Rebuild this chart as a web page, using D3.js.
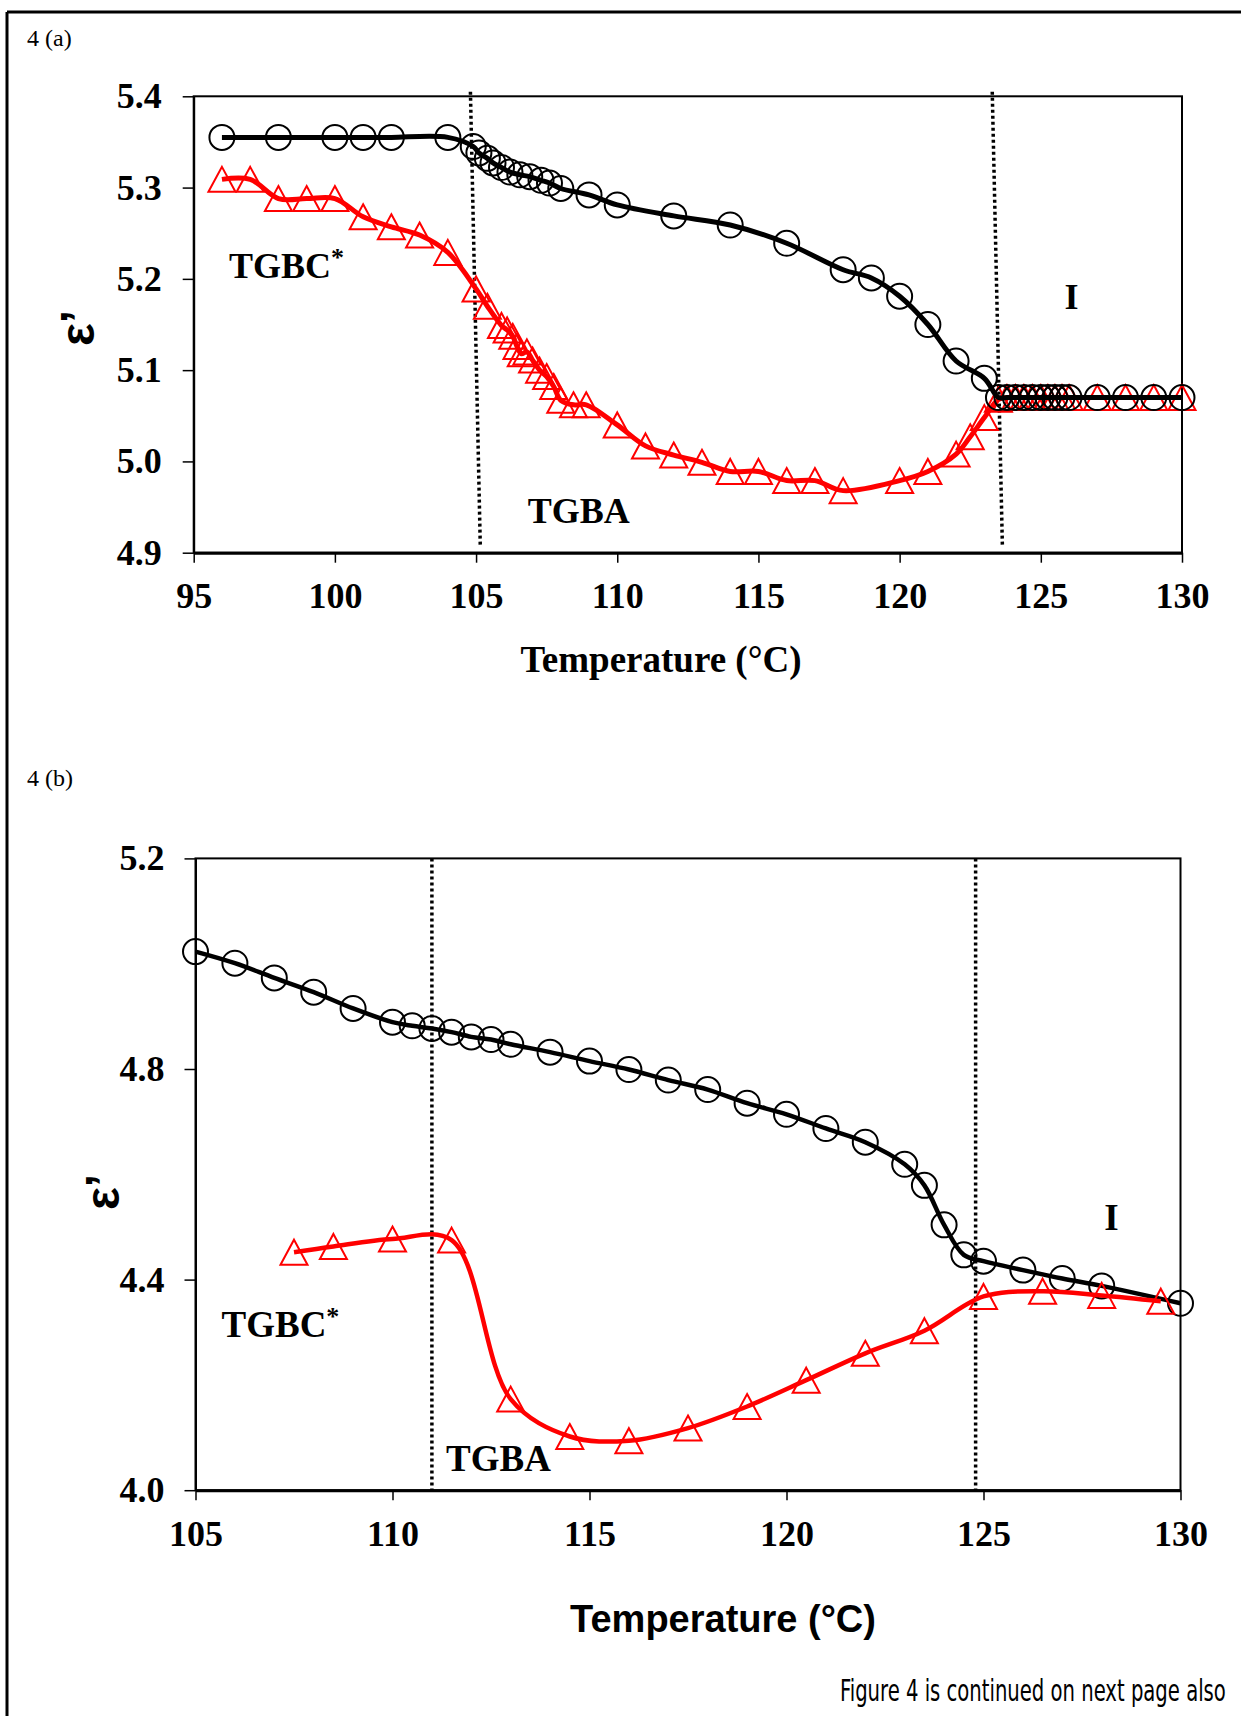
<!DOCTYPE html>
<html>
<head>
<meta charset="utf-8">
<script src="https://cdn.jsdelivr.net/npm/d3@7"></script>
<style>
  body { margin: 0; background: #fff; }
  svg { display: block; }
</style>
</head>
<body>
<script>
// ---- data, figure 4(a) ----
var aTempCirc = [96, 98, 100, 101, 102, 104, 104.9, 105.1, 105.4, 105.6, 105.9, 106.2, 106.55, 106.9, 107.3, 107.6, 108,
  109, 110, 112, 114, 116, 118, 119, 120, 121, 122, 123, 123.5, 123.8, 124.1, 124.4, 124.7, 125, 125.25, 125.5, 125.75,
  126, 127, 128, 129, 130];
var aEpsCirc = [5.355, 5.355, 5.355, 5.355, 5.355, 5.355, 5.345, 5.338, 5.332, 5.327, 5.322, 5.317, 5.314, 5.312, 5.308, 5.305, 5.299,
  5.292, 5.281, 5.269, 5.259, 5.239, 5.210, 5.201, 5.181, 5.150, 5.110, 5.091, 5.070, 5.070, 5.070, 5.070, 5.070, 5.070, 5.070, 5.070, 5.070,
  5.070, 5.070, 5.070, 5.070, 5.070];
var aTempTri = [96, 97, 98, 99, 100, 101, 102, 103, 104, 105, 105.4, 105.9, 106.1, 106.3, 106.45, 106.6, 106.8, 107, 107.25, 107.5,
  107.75, 108, 108.45, 108.9, 110, 111, 112, 113, 114, 115, 116, 117, 118, 120, 121, 122, 122.5, 123, 123.5, 123.8, 124.1,
  124.4, 124.7, 125, 125.25, 125.5, 125.75, 126, 127, 128, 129, 130];
var aEpsTri = [5.309, 5.309, 5.288, 5.288, 5.288, 5.268, 5.257, 5.248, 5.229, 5.189, 5.170, 5.149, 5.144, 5.137, 5.126, 5.118, 5.120, 5.111, 5.100, 5.093,
  5.082, 5.067, 5.062, 5.062, 5.040, 5.017, 5.007, 4.999, 4.989, 4.989, 4.979, 4.979, 4.968, 4.979, 4.989, 5.008, 5.027, 5.048, 5.068, 5.070, 5.070,
  5.070, 5.070, 5.070, 5.070, 5.070, 5.070, 5.070, 5.070, 5.070, 5.070, 5.070];
var aXTicks = [95, 100, 105, 110, 115, 120, 125, 130];
var aYTicks = [4.9, 5.0, 5.1, 5.2, 5.3, 5.4];
var aTransTop = [104.8, 123.28];     // dotted phase lines, temperature at top
var aTransBottom = [105.15, 123.64]; // and at bottom
var aPhases = [
  {name: "TGBC", star: true, t: 96.25, v: 5.201, anchor: "start"},
  {name: "TGBA", star: false, t: 106.83, v: 4.932, anchor: "start"},
  {name: "I", star: false, t: 126.09, v: 5.167, anchor: "middle"}
];

// ---- data, figure 4(b) ----
var bTempCirc = [105, 106, 107, 108, 109, 110, 110.5, 111, 111.5, 112, 112.5, 113, 114, 115, 116, 117, 118, 119, 120, 121,
  122, 123, 123.5, 124, 124.5, 125, 126, 127, 128, 130];
var bEpsCirc = [5.023, 5.001, 4.973, 4.946, 4.915, 4.889, 4.882, 4.877, 4.870, 4.861, 4.856, 4.847, 4.832, 4.815, 4.799, 4.779, 4.761, 4.735, 4.714, 4.687,
  4.661, 4.619, 4.579, 4.504, 4.447, 4.435, 4.418, 4.402, 4.388, 4.355];
var bTempTri = [107.5, 108.5, 110, 111.5, 113, 114.5, 116, 117.5, 119, 120.5, 122, 123.5, 125, 126.5, 128, 129.5];
var bEpsTri = [4.452, 4.463, 4.477, 4.475, 4.173, 4.102, 4.094, 4.118, 4.159, 4.209, 4.260, 4.303, 4.368, 4.378, 4.370, 4.359];
var bXTicks = [105, 110, 115, 120, 125, 130];
var bYTicks = [4.0, 4.4, 4.8, 5.2];
var bTrans = [111, 124.8];
var bPhases = [
  {name: "TGBC", star: true, t: 105.66, v: 4.291, anchor: "start"},
  {name: "TGBA", star: false, t: 111.36, v: 4.036, anchor: "start"},
  {name: "I", star: false, t: 128.25, v: 4.494, anchor: "middle"}
];

var width = 1241, height = 1716;
var serif = "'Liberation Serif', 'Times New Roman', serif";
var sans = "'Liberation Sans', Arial, sans-serif";

var svg = d3.select("body").append("svg")
    .attr("width", width).attr("height", height)
    .style("background", "#fff");

// page frame (only left and top edges show)
svg.append("line").attr("x1", 7).attr("y1", 12).attr("x2", width).attr("y2", 12)
    .attr("stroke", "#000").attr("stroke-width", 3);
svg.append("line").attr("x1", 7).attr("y1", 12).attr("x2", 7).attr("y2", height)
    .attr("stroke", "#000").attr("stroke-width", 3);

function zip(ts, vs) { return ts.map(function(t, i){ return {t: t, v: vs[i]}; }); }

var tri = "M0,-12.5L13.5,12.5L-13.5,12.5Z";

function drawPanel(o) {
  var x = d3.scaleLinear().domain(o.xDomain).range(o.xRange);
  var y = d3.scaleLinear().domain(o.yDomain).range(o.yRange);
  var g = svg.append("g");

  // axes
  var xAxis = d3.axisBottom(x).tickValues(o.xTicks).tickFormat(d3.format("d"))
      .tickSizeInner(10).tickSizeOuter(0).tickPadding(o.xPad);
  var yAxis = d3.axisLeft(y).tickValues(o.yTicks).tickFormat(d3.format(".1f"))
      .tickSizeInner(11).tickSizeOuter(0).tickPadding(o.yPad);
  var gx = g.append("g").attr("transform", "translate(0," + o.yRange[0] + ")").call(xAxis);
  var gy = g.append("g").attr("transform", "translate(" + o.xRange[0] + ",0)").call(yAxis);
  [gx, gy].forEach(function(a){
    a.selectAll("text").style("font-family", serif).style("font-weight", "bold")
      .style("font-size", "36px").attr("fill", "#000");
    a.selectAll("line").attr("stroke", "#000").attr("stroke-width", 1.5);
    a.select(".domain").attr("stroke", "#000").attr("stroke-width", 2);
  });
  gx.select(".domain").attr("stroke-width", 3);

  // plot frame
  g.append("rect")
      .attr("x", o.xRange[0]).attr("y", o.yRange[1])
      .attr("width", o.xRange[1] - o.xRange[0]).attr("height", o.yRange[0] - o.yRange[1])
      .attr("fill", "none").attr("stroke", "#000").attr("stroke-width", 2);

  // dotted transition lines
  o.transTop.forEach(function(t, i){
    g.append("line")
        .attr("x1", x(t)).attr("y1", y(o.transVTop))
        .attr("x2", x(o.transBottom[i])).attr("y2", y(o.transVBottom))
        .attr("stroke", "#000").attr("stroke-width", 3.5).attr("stroke-dasharray", "3,3");
  });

  var line = d3.line().x(function(d){ return x(d.t); }).y(function(d){ return y(d.v); })
      .curve(d3.curveCatmullRom.alpha(0.5));

  function series(pts, color, marker, lw) {
    var s = g.append("g");
    s.append("path").datum(pts).attr("d", line).attr("fill", "none")
        .attr("stroke", color).attr("stroke-width", lw).attr("stroke-linejoin", "round");
    if (marker === "circle") {
      s.selectAll("circle").data(pts).enter().append("circle")
          .attr("cx", function(d){ return x(d.t); }).attr("cy", function(d){ return y(d.v); })
          .attr("r", 12.5).attr("fill", "none").attr("stroke", color).attr("stroke-width", 2);
    } else {
      s.selectAll("path.m").data(pts).enter().append("path").attr("class", "m")
          .attr("d", tri)
          .attr("transform", function(d){ return "translate(" + x(d.t) + "," + y(d.v) + ")"; })
          .attr("fill", "none").attr("stroke", color).attr("stroke-width", 2);
    }
  }
  o.order.forEach(function(k){
    if (k === "circ") series(o.circ, "#000", "circle", o.lw);
    else series(o.tri, "#ff0000", "tri", o.lw);
  });

  // phase labels
  o.phases.forEach(function(p){
    var tx = g.append("text").attr("x", x(p.t)).attr("y", y(p.v))
        .attr("text-anchor", p.anchor)
        .style("font-family", serif).style("font-weight", "bold").style("font-size", o.phaseSize + "px")
        .text(p.name);
    if (p.star) tx.append("tspan").attr("dy", -12).style("font-size", "26px").text("*");
  });

  // y title
  g.append("text")
      .attr("transform", "translate(" + o.yTitle[0] + "," + o.yTitle[1] + ") rotate(-90)")
      .attr("text-anchor", "middle")
      .style("font-family", sans).style("font-weight", "bold").style("font-size", "48px")
      .text("\u03b5\u2019");

  // x title
  g.append("text").attr("x", o.xTitle[0]).attr("y", o.xTitle[1]).attr("text-anchor", "middle")
      .style("font-family", o.xTitleFont).style("font-weight", "bold").style("font-size", o.xTitleSize + "px")
      .text("Temperature (\u00b0C)");

  // panel label
  svg.append("text").attr("x", 27).attr("y", o.label[1])
      .style("font-family", serif).style("font-size", "24px")
      .text(o.label[0]);
}

drawPanel({
  xDomain: [95, 130], xRange: [193.7, 1182],
  yDomain: [4.9, 5.4], yRange: [552.7, 96.3],
  xTicks: aXTicks, yTicks: aYTicks, xPad: 20, yPad: 21,
  transTop: aTransTop, transBottom: aTransBottom, transVTop: 5.405, transVBottom: 4.906,
  circ: zip(aTempCirc, aEpsCirc), tri: zip(aTempTri, aEpsTri), order: ["tri", "circ"], lw: 5,
  phases: aPhases, phaseSize: 36,
  yTitle: [94, 328], xTitle: [661, 672], xTitleFont: serif, xTitleSize: 37,
  label: ["4 (a)", 46]
});

drawPanel({
  xDomain: [105, 130], xRange: [195.5, 1180.5],
  yDomain: [4.0, 5.2], yRange: [1490.2, 858.4],
  xTicks: bXTicks, yTicks: bYTicks, xPad: 20, yPad: 20,
  transTop: bTrans, transBottom: bTrans, transVTop: 5.2, transVBottom: 4.0,
  circ: zip(bTempCirc, bEpsCirc), tri: zip(bTempTri, bEpsTri), order: ["circ", "tri"], lw: 4.5,
  phases: bPhases, phaseSize: 37,
  yTitle: [119, 1192], xTitle: [723, 1632], xTitleFont: sans, xTitleSize: 38,
  label: ["4 (b)", 786]
});

// footnote, squeezed horizontally to the width it has in the figure
var foot = svg.append("g");
var footText = foot.append("text").attr("x", 0).attr("y", 0)
    .style("font-family", "'Liberation Sans Narrow', 'DejaVu Sans Condensed', sans-serif")
    .style("font-size", "30px")
    .text("Figure 4 is continued on next page also");
var footW = footText.node().getComputedTextLength();
foot.attr("transform", "translate(840,1701) scale(" + (386 / footW) + ",1)");
</script>
</body>
</html>
